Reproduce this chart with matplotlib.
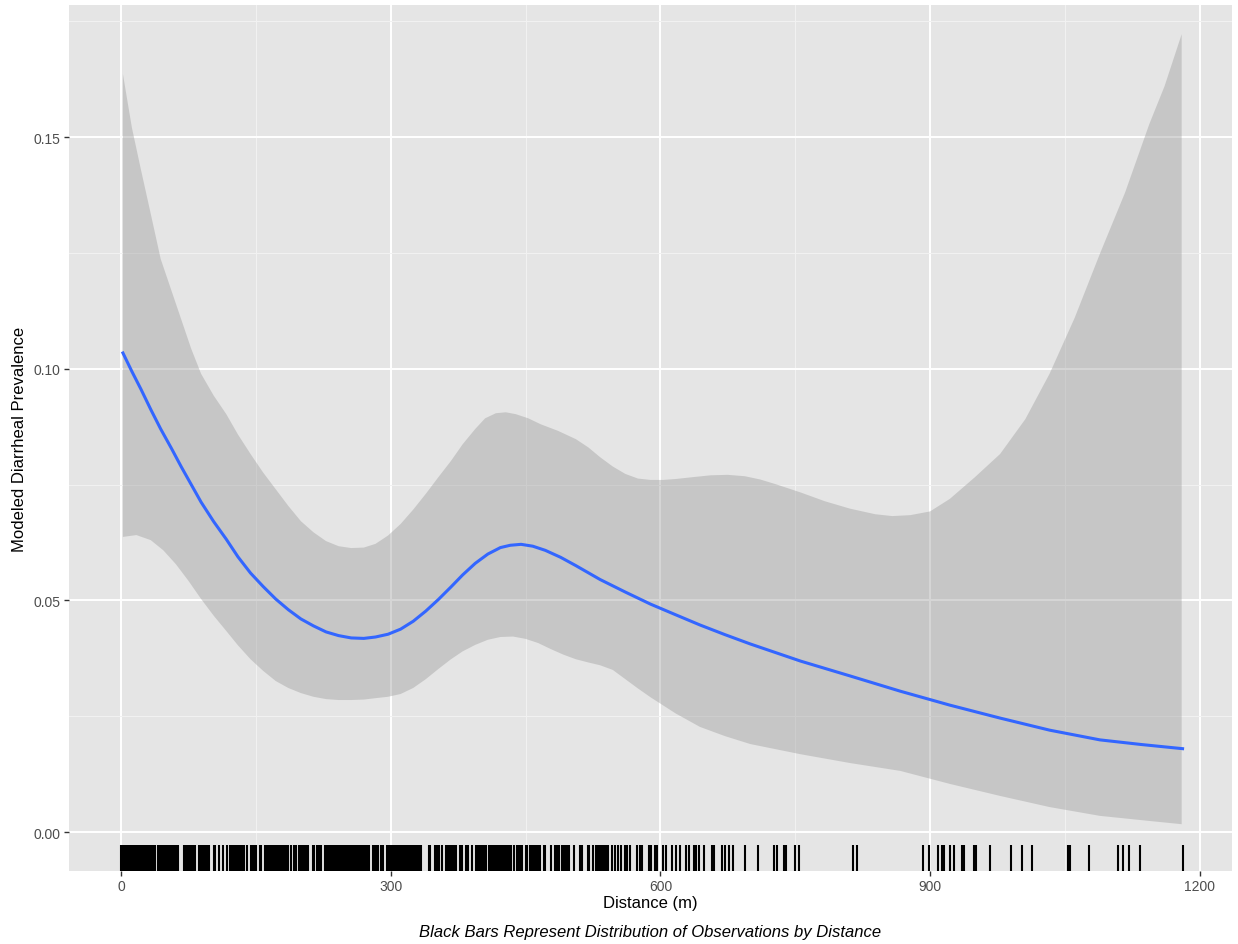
import numpy as np
import matplotlib
matplotlib.use("Agg")
import matplotlib.pyplot as plt

plt.rcParams['font.family'] = ['Liberation Sans', 'DejaVu Sans']

# smooth fit (distance in m, modeled prevalence)
fit_x = [2, 12, 22, 33, 44, 56, 67, 78, 89, 103, 117, 130, 144, 158, 172, 186,
         200, 214, 228, 242, 256, 270, 283, 297, 311, 325, 339, 353, 367, 380,
         394, 408, 422, 433, 445, 458, 472, 489, 506, 533, 561, 589, 617, 644,
         672, 700, 756, 811, 867, 922, 978, 1033, 1089, 1135, 1181]
fit_y = [0.1034, 0.0994, 0.0956, 0.0912, 0.0870, 0.0828, 0.0788, 0.0750, 0.0712,
         0.0670, 0.0632, 0.0594, 0.0559, 0.0530, 0.0503, 0.0480, 0.0460, 0.0445,
         0.0432, 0.0424, 0.0419, 0.0418, 0.0421, 0.0427, 0.0438, 0.0455, 0.0477,
         0.0502, 0.0529, 0.0555, 0.0580, 0.0600, 0.0614, 0.0619, 0.0621, 0.0617,
         0.0608, 0.0593, 0.0575, 0.0545, 0.0518, 0.0492, 0.0469, 0.0447, 0.0426,
         0.0406, 0.0369, 0.0337, 0.0304, 0.0274, 0.0246, 0.0220, 0.0199, 0.0189,
         0.0180]

# upper confidence band
upper_x = [2, 12, 22, 33, 44, 61, 78, 89, 103, 117, 130, 144, 158, 172, 186,
           200, 214, 228, 242, 256, 270, 283, 297, 311, 325, 339, 353, 367, 380,
           394, 405, 417, 428, 439, 453, 467, 486, 506, 520, 533, 547, 561, 575,
           589, 603, 617, 636, 656, 675, 694, 711, 728, 756, 783, 811, 839, 858,
           878, 900, 922, 950, 978, 1006, 1033, 1061, 1089, 1117, 1144, 1161, 1180]
upper_y = [0.1636, 0.1520, 0.1430, 0.1334, 0.1237, 0.1140, 0.1043, 0.0989, 0.0942,
           0.0902, 0.0858, 0.0816, 0.0776, 0.0740, 0.0704, 0.0671, 0.0647, 0.0628,
           0.0617, 0.0613, 0.0614, 0.0622, 0.0640, 0.0665, 0.0696, 0.0730, 0.0766,
           0.0801, 0.0837, 0.0870, 0.0893, 0.0904, 0.0906, 0.0902, 0.0893, 0.0880,
           0.0866, 0.0848, 0.0830, 0.0809, 0.0789, 0.0773, 0.0763, 0.0760, 0.0760,
           0.0762, 0.0766, 0.0770, 0.0771, 0.0768, 0.0761, 0.0751, 0.0733, 0.0714,
           0.0698, 0.0686, 0.0682, 0.0684, 0.0692, 0.0719, 0.0766, 0.0816, 0.0891,
           0.0989, 0.1110, 0.1248, 0.1380, 0.1528, 0.1610, 0.1722]

# lower confidence band
lower_x = [2, 17, 33, 47, 61, 75, 89, 103, 117, 130, 144, 158, 172, 186, 200,
           214, 228, 242, 256, 270, 283, 297, 311, 325, 339, 353, 367, 380, 394,
           408, 422, 436, 450, 464, 478, 492, 506, 520, 533, 547, 561, 575, 589,
           617, 644, 672, 700, 728, 756, 811, 867, 922, 978, 1033, 1089, 1144, 1180]
lower_y = [0.0637, 0.0641, 0.0630, 0.0608, 0.0578, 0.0542, 0.0503, 0.0467, 0.0434,
           0.0403, 0.0373, 0.0348, 0.0326, 0.0311, 0.0300, 0.0292, 0.0287, 0.0285,
           0.0285, 0.0286, 0.0289, 0.0292, 0.0298, 0.0311, 0.0330, 0.0352, 0.0373,
           0.0390, 0.0404, 0.0415, 0.0421, 0.0422, 0.0417, 0.0408, 0.0395, 0.0383,
           0.0373, 0.0366, 0.0360, 0.0350, 0.0330, 0.0310, 0.0291, 0.0256, 0.0227,
           0.0207, 0.0190, 0.0179, 0.0168, 0.0149, 0.0132, 0.0104, 0.0078, 0.0054,
           0.0035, 0.0024, 0.0017]

# observation distances (rug)
rug_x = [0, 2, 4, 6, 8, 10, 12, 14, 16, 18, 20, 22, 24, 26, 28, 30, 32, 34, 36, 38,
         41, 43, 45, 47, 49, 51, 53, 55, 57, 59, 61, 63,
         70, 72, 74, 76, 78, 80, 82, 87, 89, 91, 93, 95, 98, 103, 105, 109, 113, 118, 121,
         123, 125, 127, 129, 131, 133, 135, 137, 140, 144, 146, 148, 150, 154, 156,
         160, 162, 164, 166, 168, 170, 172, 174, 176, 178, 180, 182, 184, 186, 189,
         192, 195, 198, 200, 202, 204, 206, 208, 213, 215, 218, 220, 222, 227, 229,
         231, 233, 235, 237, 239, 241, 243, 245, 247,
         249, 251, 254, 256, 258, 260, 262, 264, 266, 268, 270, 272, 274, 276, 280,
         282, 284, 286, 289, 291, 296, 298, 300, 302, 304, 306, 308, 310, 312, 314,
         316, 318, 320, 322, 324, 326, 328, 330, 332, 334, 342, 344, 349, 351, 354,
         357, 361, 363, 365, 367, 369,
         371, 373, 377, 379, 384, 386, 390, 395, 397, 399, 402, 404, 406, 409, 411,
         414, 416, 418, 420, 422, 424, 426, 428, 430, 432, 434, 437, 440, 442, 444,
         446, 450, 452, 455, 457, 459, 462, 464, 466, 470, 472, 478, 483, 485, 487,
         490, 492, 494,
         496, 498, 504, 511, 513, 519, 521, 525, 528, 531, 533, 535, 537, 539, 542,
         546, 550, 553, 556, 561, 563, 566, 574, 577, 580, 587, 590, 594, 596, 603,
         606, 613, 617,
         622, 628, 632, 637, 640, 643, 648, 657, 660, 668, 672, 676, 681, 694, 709,
         726, 730, 737, 740, 750, 754, 814, 819,
         892, 899, 909, 913, 916, 922, 927, 936, 938, 949, 951, 967, 990, 1002, 1013,
         1054, 1056, 1077, 1109, 1115, 1121, 1134, 1181]

x_ticks = [0, 300, 600, 900, 1200]
y_ticks = [0.00, 0.05, 0.10, 0.15]
y_ticklabels = ['0.00', '0.05', '0.10', '0.15']

fig = plt.figure(figsize=(12.38, 9.45), dpi=100)
ax = fig.add_axes([69 / 1238, 73 / 945, 1163 / 1238, 866 / 945])
ax.set_facecolor('#E5E5E5')
for s in ax.spines.values():
    s.set_visible(False)

ax.set_xlim(-58, 1236)
ax.set_ylim(-0.0084, 0.1785)

ax.set_xticks(x_ticks)
ax.set_xticks([150, 450, 750, 1050], minor=True)
ax.set_yticks(y_ticks)
ax.set_yticklabels(y_ticklabels)
ax.set_yticks([0.025, 0.075, 0.125, 0.175], minor=True)
ax.grid(which='major', color='white', linewidth=1.4)
ax.grid(which='minor', color='#F2F2F2', linewidth=0.7)
ax.set_axisbelow(True)
ax.tick_params(which='major', length=3.5, width=1.0, color='#333333',
               labelsize=10, labelcolor='#4D4D4D', pad=2.5)
ax.tick_params(which='minor', length=0)

# confidence ribbon as one polygon
band_x = upper_x + lower_x[::-1]
band_y = upper_y + lower_y[::-1]
ax.fill(band_x, band_y, color='#999999', alpha=0.4, linewidth=0, zorder=2)
ax.plot(fit_x, fit_y, color='#3366FF', linewidth=2.2, zorder=3)

ax.vlines(rug_x, 0, 0.03, transform=ax.get_xaxis_transform(),
          color='black', linewidth=1.5, zorder=4)

ax.set_xlabel('Distance (m)', fontsize=12, va='center')
ax.xaxis.set_label_coords(0.5, (872 - 904) / 866)
ax.set_ylabel('Modeled Diarrheal Prevalence', fontsize=12, va='center')
ax.yaxis.set_label_coords((20 - 69) / 1163, 0.5)

fig.text(650 / 1238, 1 - 933 / 945,
         'Black Bars Represent Distribution of Observations by Distance',
         fontsize=12, style='italic', ha='center', va='center')

fig.savefig('out.png', dpi=100)
